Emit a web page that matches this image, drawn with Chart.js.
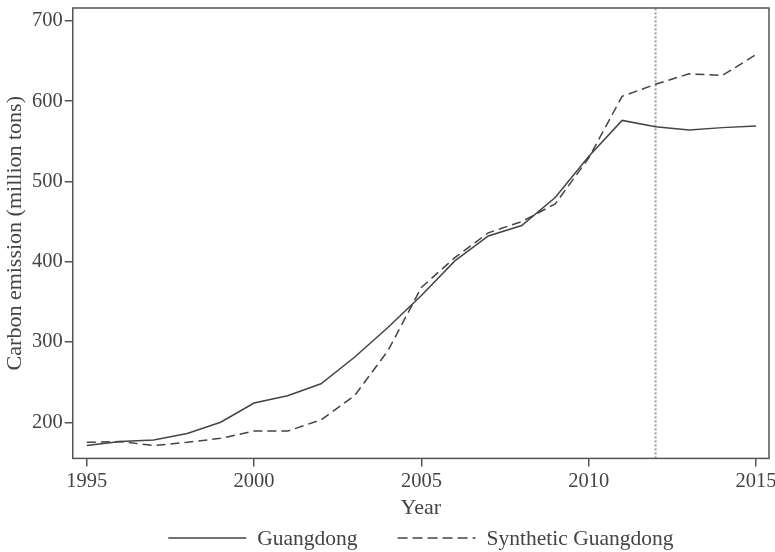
<!DOCTYPE html>
<html>
<head>
<meta charset="utf-8">
<script src="https://cdn.jsdelivr.net/npm/chart.js@4/dist/chart.umd.min.js"></script>
<style>
  html, body { margin: 0; padding: 0; background: #fff; }
  #wrap { width: 775px; height: 552px; }
</style>
</head>
<body>
<div id="wrap"><canvas id="co2Chart"></canvas></div>
<script>
const years = [1995, 1996, 1997, 1998, 1999, 2000, 2001, 2002, 2003, 2004, 2005,
               2006, 2007, 2008, 2009, 2010, 2011, 2012, 2013, 2014, 2015];
const guangdong = [171, 176, 178, 186, 200, 224, 233, 248, 281, 318, 358,
                   401, 432, 445, 480, 531, 576, 568, 564, 567, 569];
const synthetic = [175, 176, 171, 175, 180, 189, 189, 203, 233, 289, 368,
                   405, 436, 450, 472, 529, 606, 621, 634, 632, 658];
const treatYear = 2012;
const xTicks = [1995, 2000, 2005, 2010, 2015];
const yTicks = [200, 300, 400, 500, 600, 700];

const ink = '#444';
const serif = '"Liberation Serif", "DejaVu Serif", serif';

// box round the plot area
const frame = {
    id: 'frame',
    afterDatasetsDraw(chart) {
        const { ctx, chartArea: a } = chart;
        ctx.save();
        ctx.strokeStyle = '#555';
        ctx.lineWidth = 1.5;
        ctx.strokeRect(a.left, a.top, a.right - a.left, a.bottom - a.top);
        ctx.restore();
    }
};

// legend under the axis title, centred on the plot area
const bottomLegend = {
    id: 'bottomLegend',
    afterDraw(chart) {
        const { ctx, chartArea: a } = chart;
        const items = chart.data.datasets.filter(d => d.label !== 'treat');
        const lineW = 78, textGap = 11, itemGap = 40, y = 538;
        ctx.save();
        ctx.font = '21.5px ' + serif;
        ctx.textBaseline = 'middle';
        const widths = items.map(d => ctx.measureText(d.label).width);
        let total = (items.length - 1) * itemGap;
        widths.forEach(w => { total += lineW + textGap + w; });
        let x = (a.left + a.right) / 2 - total / 2;
        items.forEach((d, i) => {
            ctx.strokeStyle = d.borderColor;
            ctx.lineWidth = d.borderWidth;
            ctx.setLineDash(d.borderDash ? [10, 5] : []);
            ctx.beginPath();
            ctx.moveTo(x, y);
            ctx.lineTo(x + lineW, y);
            ctx.stroke();
            ctx.fillStyle = ink;
            ctx.fillText(d.label, x + lineW + textGap, y + 1);
            x += lineW + textGap + widths[i] + itemGap;
        });
        ctx.restore();
    }
};

const toPts = (ys) => ys.map((y, i) => ({ x: years[i], y: y }));

new Chart(document.getElementById('co2Chart').getContext('2d'), {
    type: 'line',
    data: {
        datasets: [
            {
                label: 'Guangdong',
                data: toPts(guangdong),
                borderColor: ink,
                borderWidth: 1.5,
                pointRadius: 0,
                tension: 0
            },
            {
                label: 'Synthetic Guangdong',
                data: toPts(synthetic),
                borderColor: ink,
                borderWidth: 1.5,
                borderDash: [9, 5],
                pointRadius: 0,
                tension: 0
            },
            {
                label: 'treat',
                data: [{ x: treatYear, y: 155 }, { x: treatYear, y: 716 }],
                borderColor: '#9a9a9a',
                borderWidth: 2,
                borderDash: [2, 2],
                pointRadius: 0
            }
        ]
    },
    options: {
        responsive: true,
        maintainAspectRatio: false,
        animation: false,
        layout: { padding: { top: 8, right: 6, left: 4, bottom: 29 } },
        plugins: {
            tooltip: { enabled: false },
            legend: { display: false }
        },
        scales: {
            x: {
                type: 'linear',
                min: 1994.58,
                max: 2015.39,
                afterBuildTicks: (s) => { s.ticks = xTicks.map(v => ({ value: v })); },
                afterFit: (s) => { s.paddingRight = 0; s.paddingLeft = 0; },
                ticks: {
                    color: ink,
                    font: { family: serif, size: 20.5 },
                    maxRotation: 0,
                    padding: 3,
                    callback: (v) => String(v)
                },
                grid: { display: true, drawOnChartArea: false, drawTicks: true, tickLength: 8, color: '#555', lineWidth: 1.5 },
                border: { display: false },
                title: {
                    display: true,
                    text: 'Year',
                    color: ink,
                    font: { family: serif, size: 22, lineHeight: 1 },
                    padding: { top: 0, bottom: 4 }
                }
            },
            y: {
                min: 155,
                max: 716,
                afterBuildTicks: (s) => { s.ticks = yTicks.map(v => ({ value: v })); },
                afterFit: (s) => { s.paddingTop = 0; s.paddingBottom = 0; },
                ticks: {
                    color: ink,
                    font: { family: serif, size: 20.5 },
                    padding: 2
                },
                grid: { display: true, drawOnChartArea: false, drawTicks: true, tickLength: 8, color: '#555', lineWidth: 1.5 },
                border: { display: false },
                title: {
                    display: true,
                    text: 'Carbon emission (million tons)',
                    color: ink,
                    font: { family: serif, size: 22, lineHeight: 1 },
                    padding: { top: 0, bottom: 4 }
                }
            }
        }
    },
    plugins: [frame, bottomLegend]
});
</script>
</body>
</html>
